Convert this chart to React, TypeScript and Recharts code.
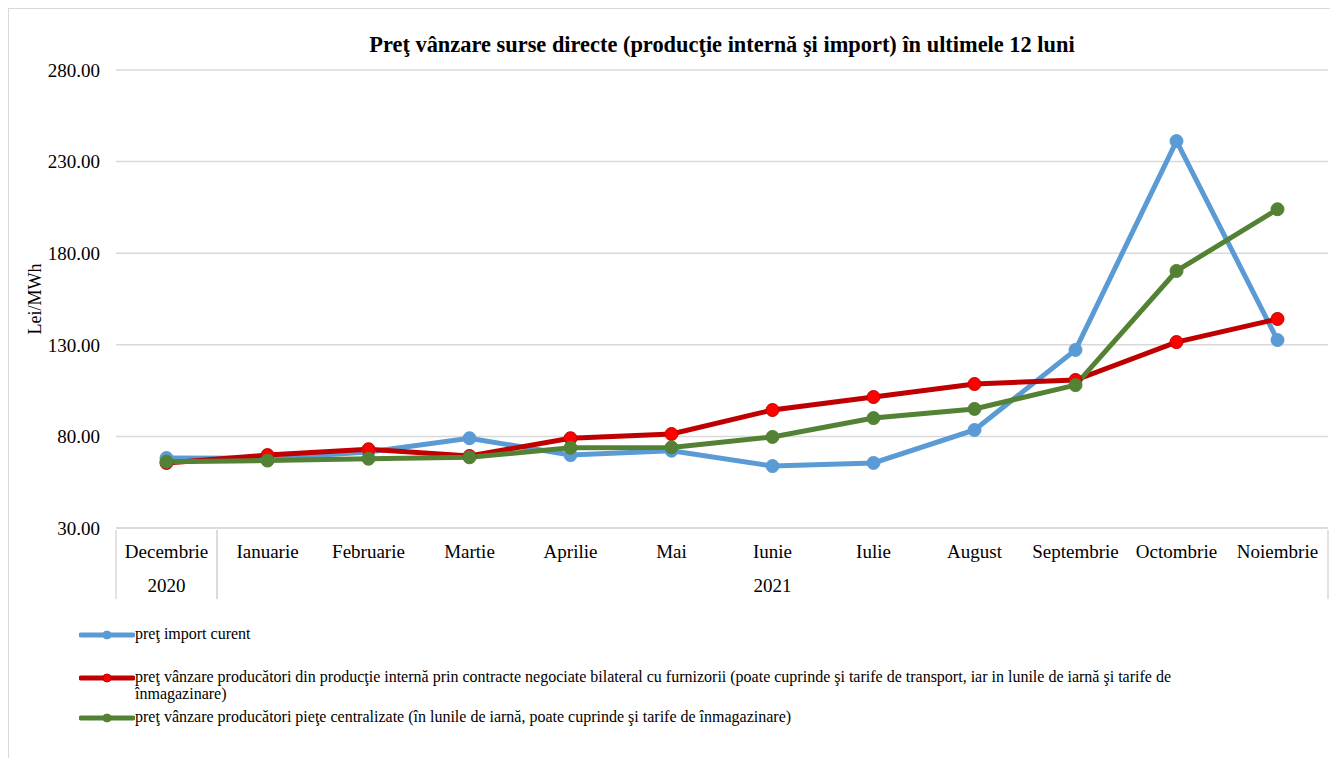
import React from "react";
import { LineChart, Line, XAxis, YAxis, CartesianGrid } from "recharts";

const months = [
  "Decembrie",
  "Ianuarie",
  "Februarie",
  "Martie",
  "Aprilie",
  "Mai",
  "Iunie",
  "Iulie",
  "August",
  "Septembrie",
  "Octombrie",
  "Noiembrie",
];
const years = ["2020", "2021", "2021", "2021", "2021", "2021", "2021", "2021", "2021", "2021", "2021", "2021"];

const importCurent = [68.2, 68.0, 71.5, 79.0, 69.8, 72.2, 63.8, 65.5, 83.5, 127.2, 241.2, 132.6];
const productieInterna = [65.5, 69.8, 73.0, 69.3, 79.0, 81.3, 94.4, 101.5, 108.6, 110.8, 131.5, 144.1];
const pieteCentralizate = [66.2, 66.8, 67.8, 68.6, 73.8, 74.0, 79.7, 90.0, 95.0, 108.0, 170.3, 204.0];

const yTicks = [30, 80, 130, 180, 230, 280];

const data = months.map((m, i) => ({
  month: m,
  year: years[i],
  importCurent: importCurent[i],
  productieInterna: productieInterna[i],
  pieteCentralizate: pieteCentralizate[i],
}));

const FONT = "'Liberation Serif', 'Times New Roman', serif";
const GRID = "#d9d9d9";
const BLUE = "#5b9bd5";
const RED = "#c00000";
const RED_DOT = "#ff0000";
const GREEN = "#548235";

const CHART_W = 1329;
const PLOT_LEFT = 107;
const PLOT_W = 1212;
const BAND = PLOT_W / months.length;

const series = [
  { key: "importCurent", color: BLUE, dot: BLUE, name: "preţ import curent" },
  {
    key: "productieInterna",
    color: RED,
    dot: RED_DOT,
    name: "preţ vânzare producători din producţie internă prin contracte negociate bilateral cu furnizorii (poate cuprinde şi tarife de transport, iar in lunile de iarnă şi tarife de înmagazinare)",
  },
  {
    key: "pieteCentralizate",
    color: GREEN,
    dot: GREEN,
    name: "preţ vânzare producători pieţe centralizate (în lunile de iarnă, poate cuprinde şi tarife de înmagazinare)",
  },
];

// month label + second row with the year groups
const MonthTick = (props: any) => {
  const { x, y, payload, index } = props;
  const half = BAND / 2;
  const yr = years[index];
  const first = index === 0 || years[index - 1] !== yr;
  const last = index === years.length - 1 || years[index + 1] !== yr;
  const groupLen = years.filter((v) => v === yr).length;
  return (
    <g>
      <text x={x} y={y + 28} textAnchor="middle" fontSize={19} fontFamily={FONT} fill="#000">
        {payload.value}
      </text>
      {first && (
        <>
          <line x1={x - half} x2={x - half} y1={y} y2={y + 69} stroke={GRID} strokeWidth={1.5} />
          <text
            x={x - half + (groupLen * BAND) / 2}
            y={y + 62}
            textAnchor="middle"
            fontSize={19}
            fontFamily={FONT}
            fill="#000"
          >
            {yr}
          </text>
        </>
      )}
      {last && <line x1={x + half} x2={x + half} y1={y} y2={y + 69} stroke={GRID} strokeWidth={1.5} />}
    </g>
  );
};

const LegendMark = ({ color, dot }: { color: string; dot: string }) => (
  <svg width={56} height={12} style={{ flexShrink: 0 }}>
    <line x1={2} x2={54} y1={6} y2={6} stroke={color} strokeWidth={5} strokeLinecap="round" />
    <circle cx={28} cy={6} r={4} fill={dot} stroke={color} />
  </svg>
);

export default function App() {
  return (
    <div
      style={{
        position: "relative",
        width: CHART_W,
        height: 749,
        borderLeft: `1px solid ${GRID}`,
        borderTop: `1px solid ${GRID}`,
        background: "#fff",
        fontFamily: FONT,
      }}
    >
      <div
        style={{
          position: "absolute",
          left: PLOT_LEFT,
          width: PLOT_W,
          top: 23,
          textAlign: "center",
          fontWeight: "bold",
          fontSize: 22.4,
          lineHeight: "25px",
          color: "#000",
        }}
      >
        Preţ vânzare surse directe (producţie internă şi import) în ultimele 12 luni
      </div>

      <LineChart
        width={CHART_W}
        height={610}
        data={data}
        margin={{ top: 61, right: 10, left: 0, bottom: 11 }}
      >
        <CartesianGrid horizontal vertical={false} stroke={GRID} strokeWidth={1.5} />
        <XAxis
          dataKey="month"
          interval={0}
          height={80}
          padding={{ left: BAND / 2, right: BAND / 2 }}
          axisLine={{ stroke: GRID, strokeWidth: 1.5 }}
          tickLine={false}
          tickSize={0}
          tick={<MonthTick />}
        />
        <YAxis
          width={PLOT_LEFT}
          domain={[30, 280]}
          ticks={yTicks}
          interval={0}
          axisLine={false}
          tickLine={false}
          tickSize={0}
          tickMargin={16}
          tickFormatter={(v: number) => v.toFixed(2)}
          tick={{ fontSize: 19, fontFamily: FONT, fill: "#000" }}
          label={{
            value: "Lei/MWh",
            angle: -90,
            position: "insideLeft",
            offset: 26,
            style: { fontSize: 18, fontFamily: FONT, fill: "#000", textAnchor: "middle" },
          }}
        />
        {series.map((s) => (
          <Line
            key={s.key}
            type="linear"
            dataKey={s.key}
            name={s.name}
            stroke={s.color}
            strokeWidth={5}
            dot={{ r: 6.5, fill: s.dot, stroke: s.color, strokeWidth: 1 }}
            activeDot={false}
            isAnimationActive={false}
          />
        ))}
      </LineChart>

      <div style={{ position: "absolute", left: 70, top: 616, width: 1200, fontSize: 16, color: "#000" }}>
        {series.map((s, i) => (
          <div
            key={s.key}
            style={{
              display: "flex",
              alignItems: "flex-start",
              lineHeight: "17px",
              marginBottom: i === 0 ? 24 : 6,
            }}
          >
            <div style={{ paddingTop: 2 }}>
              <LegendMark color={s.color} dot={s.dot} />
            </div>
            <span style={{ maxWidth: 1060 }}>{s.name}</span>
          </div>
        ))}
      </div>
    </div>
  );
}
